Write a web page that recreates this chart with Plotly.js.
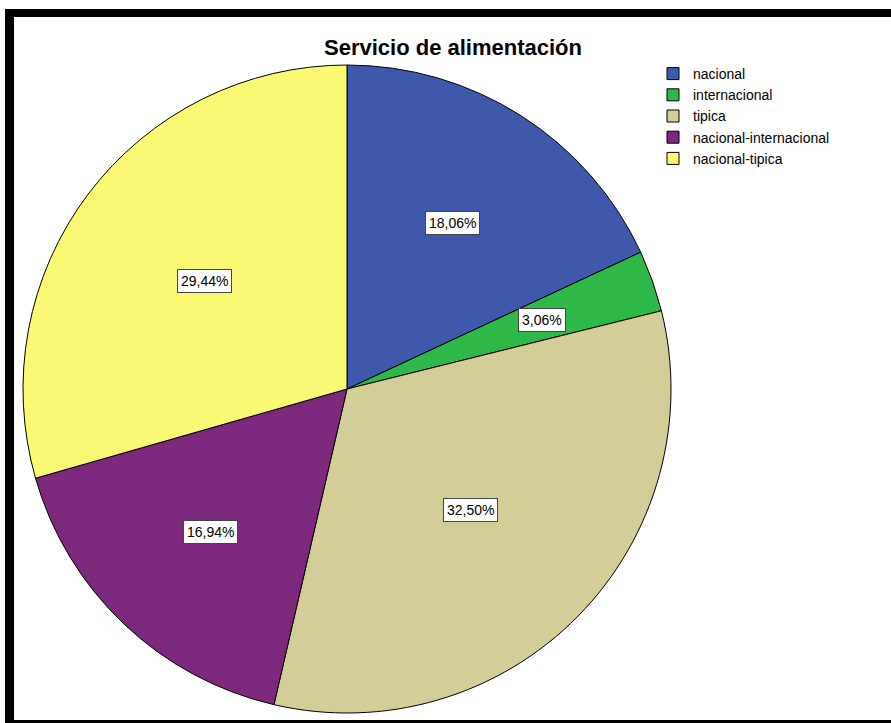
<!DOCTYPE html>
<html>
<head>
<meta charset="utf-8">
<script src="https://cdn.plot.ly/plotly-3.0.1.min.js"></script>
<style>
  html, body { margin: 0; padding: 0; background: #ffffff; overflow: hidden; }
  #frame { position: absolute; left: 5px; top: 9px; width: 900px; height: 703px;
           border-left: 9px solid #000; border-top: 8px solid #000; border-bottom: 8px solid #000; }
  #chart { position: absolute; left: 0; top: 0; width: 891px; height: 723px; }
</style>
</head>
<body>
<div id="frame"></div>
<div id="chart"></div>
<script>
// ---- data ----
const categories = ["nacional", "internacional", "tipica", "nacional-internacional", "nacional-tipica"];
const percentages = [18.06, 3.06, 32.50, 16.94, 29.44];
const sliceColors = ["#3E58AC", "#2EB848", "#D3CE97", "#7C287D", "#FBF873"];
const chartTitle = "Servicio de alimentación";

// ---- geometry ----
const W = 891, H = 723;
const cx = 347, cy = 389, R = 324;
const domX = [(cx - R) / W, (cx + R) / W];
const domY = [1 - (cy + R) / H, 1 - (cy - R) / H];

const fmt = v => v.toFixed(2).replace('.', ',') + '%';

// label positions computed from the data (near the sector centroid)
const total = percentages.reduce((a, b) => a + b, 0);
let cum = 0;
const annotations = percentages.map(v => {
  const frac = v / total;
  const mid = (cum + frac / 2) * 2 * Math.PI;
  const alpha = frac * Math.PI;
  cum += frac;
  const d = 0.96 * R * (2 * Math.sin(alpha)) / (3 * alpha);
  const px = cx + d * Math.sin(mid);
  const py = cy - d * Math.cos(mid);
  return {
    x: px / W, y: 1 - py / H, xref: 'paper', yref: 'paper',
    xanchor: 'center', yanchor: 'middle',
    text: fmt(v), showarrow: false,
    font: { family: 'Liberation Sans, Arial, sans-serif', size: 14, color: '#000' },
    bgcolor: '#ffffff', bordercolor: '#444444', borderwidth: 1, borderpad: 3
  };
});

const trace = {
  type: 'pie',
  labels: categories,
  values: percentages,
  sort: false,
  direction: 'clockwise',
  rotation: 0,
  textinfo: 'none',
  hoverinfo: 'label+percent',
  marker: { colors: sliceColors, line: { color: '#000000', width: 1 } },
  domain: { x: domX, y: domY }
};

const layout = {
  width: W, height: H,
  margin: { l: 0, r: 0, t: 0, b: 0 },
  paper_bgcolor: 'rgba(0,0,0,0)',
  plot_bgcolor: 'rgba(0,0,0,0)',
  title: {
    text: '<b>' + chartTitle + '</b>',
    x: 453 / W, xanchor: 'center',
    y: 1 - 47 / H, yanchor: 'middle',
    font: { family: 'Liberation Sans, Arial, sans-serif', size: 22, color: '#000' }
  },
  showlegend: true,
  legend: {
    x: 653 / W, y: 1 - 58 / H, xanchor: 'left', yanchor: 'top',
    font: { family: 'Liberation Sans, Arial, sans-serif', size: 14, color: '#000' },
    bgcolor: 'rgba(0,0,0,0)', borderwidth: 0, tracegroupgap: 0
  },
  annotations: annotations
};

Plotly.newPlot('chart', [trace], layout, { displayModeBar: false, staticPlot: true });
</script>
</body>
</html>
